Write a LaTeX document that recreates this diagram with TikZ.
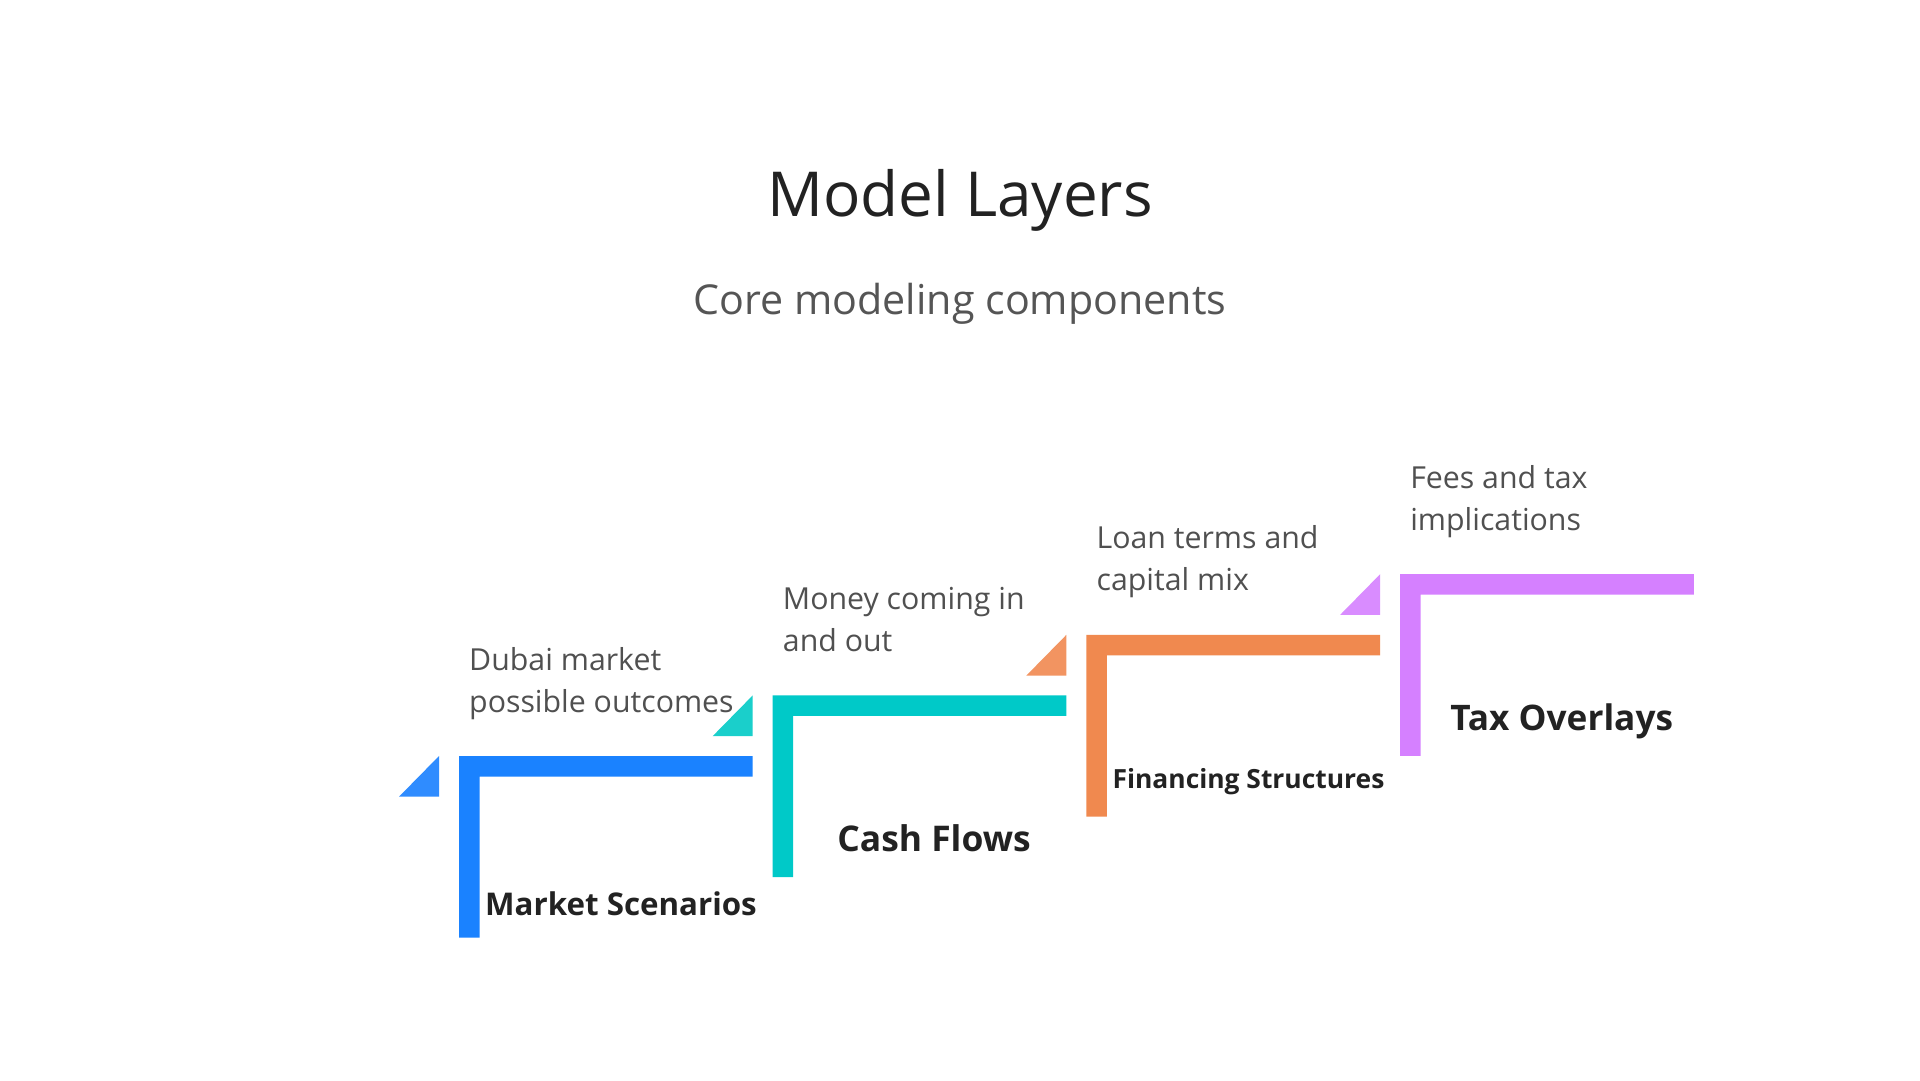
\documentclass[tikz,border=0pt]{standalone}
\usepackage{fontspec}
\setmainfont{Open Sans}
\definecolor{cblue}{HTML}{1A82FF}
\definecolor{tblue}{HTML}{2F8CFF}
\definecolor{cteal}{HTML}{00C9C8}
\definecolor{tteal}{HTML}{1ACFCB}
\definecolor{corange}{HTML}{F0894F}
\definecolor{torange}{HTML}{F29461}
\definecolor{cpurple}{HTML}{D580FF}
\definecolor{tpurple}{HTML}{D98CFF}
\definecolor{darktext}{HTML}{222222}
\definecolor{descgray}{HTML}{505050}
\definecolor{subgray}{HTML}{555555}
\begin{document}
\begin{tikzpicture}[x=1pt,y=-1pt,
  desc/.style={anchor=base west, inner sep=0pt, align=left, text=descgray, font=\fontsize{30.3}{42}\selectfont},
  lbl/.style={anchor=base, inner sep=0pt, text=darktext}]
\useasboundingbox[fill=white] (0,0) rectangle (1920,1080);
% title
\node[anchor=base, inner sep=0pt, text=darktext, font=\fontsize{62}{74}\selectfont] (title) at (960,216.7) {Model Layers};
\node[anchor=base, inner sep=0pt, text=subgray, font=\fontsize{41.2}{50}\selectfont] (subtitle) at (960,314.5) {Core modeling components};
% steps
\foreach \i/\c/\t in {0/cblue/tblue, 1/cteal/tteal, 2/corange/torange, 3/cpurple/tpurple}{
  \pgfmathsetmacro{\xx}{459+313.7*\i}
  \pgfmathsetmacro{\yy}{756-60.6*\i}
  \fill[\c] (\xx,\yy) -- (\xx+293.7,\yy) -- (\xx+293.7,\yy+20.5) -- (\xx+20.5,\yy+20.5) -- (\xx+20.5,\yy+181.7) -- (\xx,\yy+181.7) -- cycle;
  \fill[\t] (\xx-60,\yy+40.7) -- (\xx-20,\yy+40.7) -- (\xx-20,\yy) -- cycle;
}
% descriptions (anchor at baseline of last line)
\node[desc] (d1) at (469,712) {Dubai market\\possible outcomes};
\node[desc] (d2) at (782.7,651.4) {Money coming in\\and out};
\node[desc] (d3) at (1096.4,590.8) {Loan terms and\\capital mix};
\node[desc] (d4) at (1410.1,530.2) {Fees and tax\\implications};
% labels
\node[lbl, font=\bfseries\fontsize{31.3}{37}\selectfont] (l1) at (621,915) {Market Scenarios};
\node[lbl, font=\bfseries\fontsize{35.4}{42}\selectfont] (l2) at (934,851.7) {Cash Flows};
\node[lbl, font=\bfseries\fontsize{26.4}{31}\selectfont] (l3) at (1248.5,788.3) {Financing Structures};
\node[lbl, font=\bfseries\fontsize{35.2}{42}\selectfont] (l4) at (1561.7,730) {Tax Overlays};
\end{tikzpicture}
\end{document}
